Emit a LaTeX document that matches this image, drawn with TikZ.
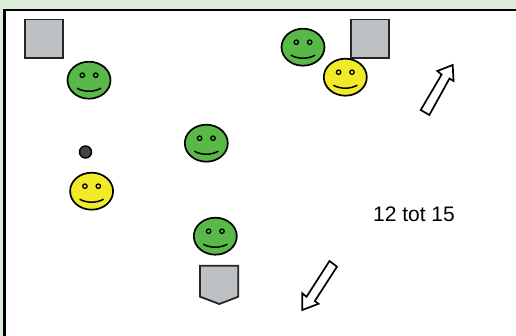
\documentclass[tikz,border=0pt]{standalone}
\usepackage{fontspec}
\setmainfont{Liberation Sans}
\usetikzlibrary{shapes.geometric}
\definecolor{facegreen}{RGB}{88,184,72}
\definecolor{faceyellow}{RGB}{240,234,40}
\definecolor{blockgray}{RGB}{189,193,196}
\definecolor{dotgray}{RGB}{66,70,75}
\definecolor{stripgreen}{RGB}{222,236,219}

\begin{document}
\begin{tikzpicture}[
    x=1pt, y=-1pt,
    face/.style={ellipse, draw=black, line width=1.7pt, minimum width=43pt, minimum height=37pt, inner sep=0pt,
        path picture={
            \begin{scope}[shift={(path picture bounding box.center)}]
                \draw[line width=1.3pt] (-6.7,-5) circle (2.2pt);
                \draw[line width=1.3pt] (6.7,-5) circle (2.2pt);
                \draw[line width=1.5pt] (-12,8) .. controls (-5,12) and (5,12) .. (12,8);
            \end{scope}
        }},
    block/.style={rectangle, draw=black!85, fill=blockgray, line width=1.8pt, minimum width=38.5pt, minimum height=38.5pt, inner sep=0pt},
    outline/.style={draw=black, fill=white, line width=1.7pt, line join=miter}
]
\useasboundingbox (0,0) rectangle (516,336);

% frame
\fill[stripgreen] (0,0) rectangle (516,336);
\fill[white] (5,10) rectangle (516,336);
\draw[black, line width=2.8pt] (4.6,336) -- (4.6,10) -- (516,10);

% blocks
\node (block1) [block] at (44,38.8) {};
\node (block2) [block] at (370,38.8) {};
\draw[draw=black!85, fill=blockgray, line width=1.8pt] (200,265.7) -- (238.3,265.7) -- (238.3,296.7) -- (219.3,304) -- (200,296.7) -- cycle;

% faces
\node (green1) [face, fill=facegreen] at (89,80.2) {};
\node (green2) [face, fill=facegreen] at (303,47.2) {};
\node (green3) [face, fill=facegreen] at (206.3,143.2) {};
\node (green4) [face, fill=facegreen] at (215.3,236.2) {};
\node (yellow1) [face, fill=faceyellow] at (345.3,77.2) {};
\node (yellow2) [face, fill=faceyellow] at (91.6,191.2) {};

% dot
\node (dot) [circle, draw=black, fill=dotgray, line width=1.4pt, minimum size=12pt, inner sep=0pt] at (85.5,152) {};

% arrows
\draw[outline] (420.7,110) -- (441.6,74.6) -- (437.3,71) -- (452.7,65) -- (453.5,81) -- (449.5,78.5) -- (429.3,115) -- cycle;
\draw[outline] (329.5,261) -- (306.5,296.8) -- (302.3,293.3) -- (302.3,310) -- (318.5,303.8) -- (314.8,301) -- (337,266.7) -- cycle;

% label
\node (range) [font=\fontsize{21pt}{24pt}\selectfont, inner sep=0pt] at (414,214) {12 tot 15};

\end{tikzpicture}
\end{document}
